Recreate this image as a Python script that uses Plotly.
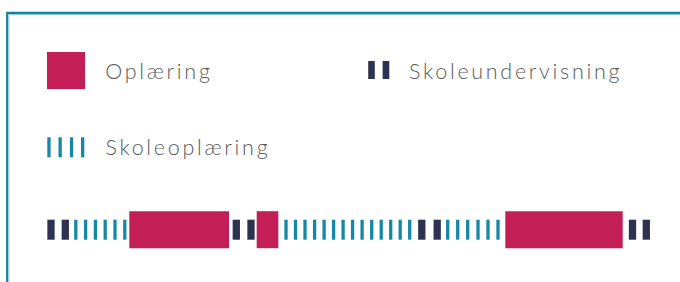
import plotly.graph_objects as go

# ---- data: timeline of the course (positions along the timeline) ----
oplaering_start = [129.3, 256.7, 505.3]
oplaering_laengde = [99.7, 21.6, 117.4]
skoleundervisning_midt = [51.0, 65.3, 236.3, 251.0, 421.8, 437.2, 632.5, 646.3]
skoleoplaering_midt = [75.8, 85.6, 95.4, 105.2, 115.0, 124.8,
                       286.0, 295.5, 305.0, 314.6, 324.1, 333.6, 343.1,
                       352.6, 362.1, 371.7, 381.2, 390.7, 400.2, 409.7,
                       447.7, 457.7, 467.7, 478.0, 488.0, 498.0]
legend_labels = ["Oplæring", "Skoleundervisning", "Skoleoplæring"]

# ---- styles ----
W, H = 680, 282
PINK = "#C31E56"
NAVY = "#2C3250"
TEAL = "#1688A7"
FRAME = "#1A80A1"
TEXT = "#5A5A5A"
FONT = "Lato"
FONT_SIZE = 21.5
LETTER_SP = 2.7
DARK_W = 7.3
TEAL_W = 3.3
BIG_H = 37
SMALL_H = 20
ROW_Y = 229.7  # pixel centre of the timeline row (from top)

fig = go.Figure()

fig.add_trace(go.Bar(
    y=[0] * len(oplaering_start), x=oplaering_laengde, base=oplaering_start,
    orientation="h", width=BIG_H, marker=dict(color=PINK, line=dict(width=0)),
    name=legend_labels[0], hoverinfo="skip"))
fig.add_trace(go.Bar(
    y=[0] * len(skoleundervisning_midt), x=[DARK_W] * len(skoleundervisning_midt),
    base=[m - DARK_W / 2 for m in skoleundervisning_midt],
    orientation="h", width=SMALL_H, marker=dict(color=NAVY, line=dict(width=0)),
    name=legend_labels[1], hoverinfo="skip"))
fig.add_trace(go.Bar(
    y=[0] * len(skoleoplaering_midt), x=[TEAL_W] * len(skoleoplaering_midt),
    base=[m - TEAL_W / 2 for m in skoleoplaering_midt],
    orientation="h", width=SMALL_H, marker=dict(color=TEAL, line=dict(width=0)),
    name=legend_labels[2], hoverinfo="skip"))


def px(x):
    return x / W


def py(y):
    return 1 - y / H


shapes = []
# frame (runs off right/bottom)
shapes.append(dict(type="path", xref="paper", yref="paper",
                   path=f"M {px(7.2)},{py(290)} L {px(7.2)},{py(12.9)} L {px(690)},{py(12.9)}",
                   line=dict(color=FRAME, width=2.2)))
shapes.append(dict(type="path", xref="paper", yref="paper",
                   path=f"M {px(8.8)},{py(290)} L {px(8.8)},{py(14.5)} L {px(690)},{py(14.5)}",
                   line=dict(color="#8CC8DA", width=1)))


def rect(x0, y0, x1, y1, color):
    shapes.append(dict(type="rect", xref="paper", yref="paper",
                       x0=px(x0), x1=px(x1), y0=py(y1), y1=py(y0),
                       fillcolor=color, line=dict(width=0), layer="above"))


# legend swatches
rect(47, 52, 85, 89, PINK)
rect(368.2, 61, 374.8, 79, NAVY)
rect(382.6, 61, 389.3, 79, NAVY)
for x0 in [47.3, 58.5, 69.9, 81.0]:
    rect(x0, 137.3, x0 + 3.3, 157.3, TEAL)

annotations = []
for label, x, y in [(legend_labels[0], 103, 71.0), (legend_labels[1], 407, 70.5),
                    (legend_labels[2], 103, 147.0)]:
    # letter-spacing is added after layout and widens the text around its centre
    shift = LETTER_SP * len(label) / 2
    annotations.append(dict(text=label, xref="paper", yref="paper",
                            x=px(x + shift), y=py(y), xanchor="left", yanchor="middle",
                            showarrow=False,
                            font=dict(family=FONT, size=FONT_SIZE, color=TEXT, weight=300)))

fig.update_layout(
    width=W, height=H, autosize=False,
    margin=dict(l=0, r=0, t=0, b=0, pad=0),
    paper_bgcolor="white", plot_bgcolor="white",
    barmode="overlay", showlegend=False,
    xaxis=dict(range=[0, W], visible=False, fixedrange=True),
    yaxis=dict(range=[-(H - ROW_Y), ROW_Y], visible=False, fixedrange=True),
    shapes=shapes, annotations=annotations,
)

post = """
document.body.style.margin = '0';
document.body.style.overflow = 'hidden';
function spaceText() {
  document.querySelectorAll('.annotation-text').forEach(function (e) {
    e.style.letterSpacing = '%spx';
  });
}
spaceText();
setTimeout(spaceText, 0);
var gd = document.getElementById('{plot_id}');
if (gd && gd.on) { gd.on('plotly_afterplot', spaceText); }
""" % LETTER_SP

fig.write_html("out.html", config={"displayModeBar": False}, post_script=post)
